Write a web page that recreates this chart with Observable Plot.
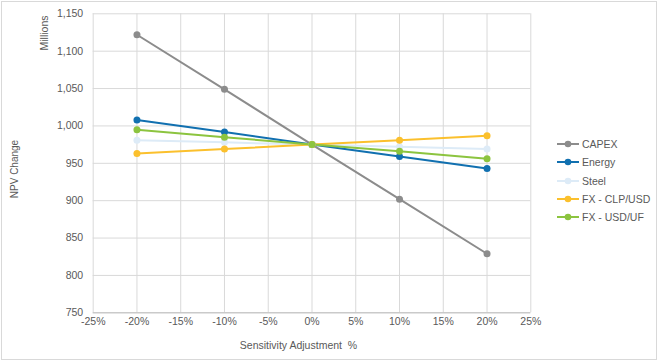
<!DOCTYPE html>
<html>
<head>
<meta charset="utf-8">
<script src="https://cdn.jsdelivr.net/npm/d3@7"></script>
<script src="https://cdn.jsdelivr.net/npm/@observablehq/plot@0.6"></script>
<style>
  html, body { margin: 0; padding: 0; background: #fff; }
  #wrap { position: relative; width: 660px; height: 362px; font-family: "Liberation Sans", Arial, sans-serif; }
  #frame { position: absolute; left: 1px; top: 1px; width: 656px; height: 359px; border: 1px solid #d9d9d9; box-sizing: border-box; pointer-events: none; }
  #legend { position: absolute; left: 557px; top: 135px; font-size: 10.5px; color: #595959; }
  .item { display: flex; align-items: center; height: 18.3px; }
  .item svg { margin-right: 3px; }
</style>
</head>
<body>
<div id="wrap"><div id="chart"></div><div id="legend"></div><div id="frame"></div></div>
<script>
const adjustments = [-20, -10, 0, 10, 20];
const seriesNames = ["CAPEX", "Energy", "Steel", "FX - CLP/USD", "FX - USD/UF"];
const capex  = [1122, 1049, 975, 902, 829];
const energy = [1008, 992, 975, 959, 943];
const steel  = [981, 978, 975, 972, 969];
const fxClp  = [963, 969, 975, 981, 987];
const fxUf   = [995, 985, 975, 966, 956];
const xTicks = [-25, -20, -15, -10, -5, 0, 5, 10, 15, 20, 25];
const yTicks = [750, 800, 850, 900, 950, 1000, 1050, 1100, 1150];
const colors = ["#8c8c8c", "#1170b0", "#ddebf7", "#fbc02d", "#8cc43f"];

const seriesValues = [capex, energy, steel, fxClp, fxUf];
const data = [];
seriesNames.forEach((s, i) => adjustments.forEach((a, j) => data.push({series: s, x: a, y: seriesValues[i][j]})));

const fmt = d3.format(",");
const chart = Plot.plot({
  width: 660,
  height: 362,
  marginLeft: 92.7,
  marginRight: 129.7,
  marginTop: 13.3,
  marginBottom: 49.7,
  style: {fontFamily: "'Liberation Sans', Arial, sans-serif", fontSize: "10.5px", color: "#595959", background: "transparent"},
  x: {domain: [-25, 25], ticks: xTicks, tickFormat: d => d + "%", label: null},
  y: {domain: [750, 1150], ticks: yTicks, tickFormat: fmt, label: null},
  color: {domain: seriesNames, range: colors},
  marks: [
    Plot.gridX(xTicks, {stroke: "#d9d9d9", strokeOpacity: 1, strokeWidth: 1}),
    Plot.gridY(yTicks, {stroke: "#d9d9d9", strokeOpacity: 1, strokeWidth: 1}),
    Plot.ruleY([750], {stroke: "#bfbfbf", strokeWidth: 1}),
    Plot.axisX({ticks: xTicks, tickSize: 0, tickPadding: 5, tickFormat: d => d + "%", label: null, fill: "#595959"}),
    Plot.axisY({ticks: yTicks, tickSize: 0, tickPadding: 10, tickFormat: fmt, label: null, fill: "#595959"}),
    Plot.line(data, {x: "x", y: "y", z: "series", stroke: "series", strokeWidth: 2}),
    Plot.dot(data, {x: "x", y: "y", fill: "series", r: 3.5})
  ]
});
document.getElementById("chart").appendChild(chart);

const svg = d3.select(chart);
svg.append("text").attr("transform", "translate(48,33) rotate(-90)").attr("text-anchor", "middle")
  .attr("font-size", "10.5px").attr("fill", "#595959").text("Millions");
svg.append("text").attr("transform", "translate(17.5,169) rotate(-90)").attr("text-anchor", "middle")
  .attr("font-size", "10px").attr("fill", "#595959").text("NPV Change");
svg.append("text").attr("x", 298.5).attr("y", 349).attr("text-anchor", "middle")
  .attr("font-size", "10.5px").attr("fill", "#595959").style("white-space", "pre").text("Sensitivity Adjustment  %");

const legend = d3.select("#legend");
seriesNames.forEach((s, i) => {
  const it = legend.append("div").attr("class", "item");
  const sv = it.append("svg").attr("width", 22).attr("height", 8);
  sv.append("line").attr("x1", 0).attr("x2", 22).attr("y1", 4).attr("y2", 4).attr("stroke", colors[i]).attr("stroke-width", 2);
  sv.append("circle").attr("cx", 11).attr("cy", 4).attr("r", 3.3).attr("fill", colors[i]);
  it.append("span").text(s);
});
</script>
</body>
</html>
